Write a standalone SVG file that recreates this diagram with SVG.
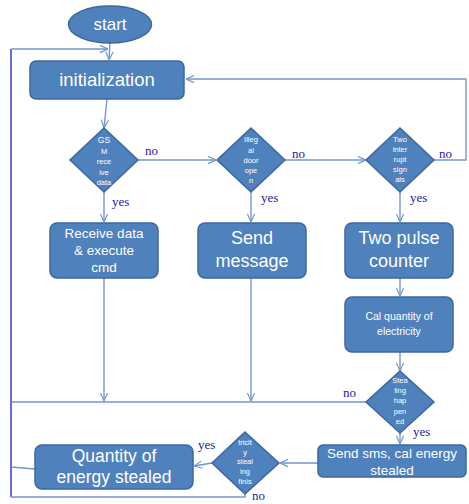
<svg xmlns="http://www.w3.org/2000/svg" width="469" height="504" viewBox="0 0 469 504">
<defs>
<marker id="arr" viewBox="0 0 10 10" refX="10" refY="5" markerWidth="9" markerHeight="9" markerUnits="userSpaceOnUse" orient="auto">
<polyline points="1,1 10,5 1,9" fill="none" stroke="#7297cf" stroke-width="1.3"/>
</marker>
<style>
.n{fill:#4f81bd;stroke:#3b679f;stroke-width:1.5}
.t{fill:#fff;font-family:"Liberation Sans",Arial,sans-serif;text-anchor:middle}
.d{font-size:7.5px}
.c{fill:none;stroke:#7297cf;stroke-width:1.4}
.l{fill:#1c1ca0;font-family:"Liberation Serif","Times New Roman",serif;font-size:13px}
</style>
</defs>
<rect width="469" height="504" fill="#fff"/>
<g id="connectors">
<path class="c" d="M110,43 L109,60" marker-end="url(#arr)"/>
<path d="M11,497 V49" fill="none" stroke="#3a3ac4" stroke-width="1.5"/>
<path class="c" d="M11,49 H108" marker-end="url(#arr)"/>
<path class="c" d="M107,99 L104,128" marker-end="url(#arr)"/>
<path class="c" d="M138,160 H216" marker-end="url(#arr)"/>
<path class="c" d="M285,160 H366" marker-end="url(#arr)"/>
<path class="c" d="M434,160 H466 V79 H186" marker-end="url(#arr)"/>
<path class="c" d="M104,192 V222" marker-end="url(#arr)"/>
<path class="c" d="M251,192 V222" marker-end="url(#arr)"/>
<path class="c" d="M400,192 V222" marker-end="url(#arr)"/>
<path class="c" d="M104,278 V401" marker-end="url(#arr)"/>
<path class="c" d="M251,278 V401" marker-end="url(#arr)"/>
<path class="c" d="M400,278 V296" marker-end="url(#arr)"/>
<path class="c" d="M400,352 V371" marker-end="url(#arr)"/>
<path class="c" d="M366,402 H11"/>
<path class="c" d="M400,432 V444" marker-end="url(#arr)"/>
<path class="c" d="M318,463 H280" marker-end="url(#arr)"/>
<path class="c" d="M212,463 L194,466" marker-end="url(#arr)"/>
<path class="c" d="M35,469 L11,467"/>
<path class="c" d="M245,493 V497 H11"/>
</g>
<g id="start">
<ellipse class="n" cx="110" cy="24.5" rx="41.5" ry="18.5"/>
<text class="t" x="110" y="30" font-size="17">start</text>
</g>
<g id="init">
<rect class="n" x="30" y="61" width="154" height="38" rx="6"/>
<text class="t" x="107" y="86" font-size="18.5">initialization</text>
</g>
<g id="d1">
<polygon class="n" points="104,128 138,160 104,192 70,160"/>
<text class="t" x="104" y="143" font-size="8.5">GS</text>
<text class="t d" x="104" y="153.5">M</text>
<text class="t d" x="104" y="164">rece</text>
<text class="t d" x="104" y="174.5">ive</text>
<text class="t d" x="104" y="185">data</text>
</g>
<g id="d2">
<polygon class="n" points="251,128 285,160 251,192 217,160"/>
<text class="t d" x="251" y="142">Illeg</text>
<text class="t d" x="251" y="152.5">al</text>
<text class="t d" x="251" y="162.5">door</text>
<text class="t d" x="251" y="172.5">ope</text>
<text class="t d" x="251" y="183">n</text>
</g>
<g id="d3">
<polygon class="n" points="400,128 434,160 400,192 366,160"/>
<text class="t d" x="400" y="142">Two</text>
<text class="t d" x="400" y="152">inter</text>
<text class="t d" x="400" y="162">rupt</text>
<text class="t d" x="400" y="172">sign</text>
<text class="t d" x="400" y="182">als</text>
</g>
<g id="receive">
<rect class="n" x="50" y="223" width="108" height="55" rx="7"/>
<text class="t" x="104" y="238" font-size="13.5">Receive data</text>
<text class="t" x="104" y="255" font-size="13.5">&amp; execute</text>
<text class="t" x="104" y="272" font-size="13.5">cmd</text>
</g>
<g id="send">
<rect class="n" x="198" y="223" width="108" height="55" rx="7"/>
<text class="t" x="252" y="244" font-size="18">Send</text>
<text class="t" x="252" y="267" font-size="18">message</text>
</g>
<g id="pulse">
<rect class="n" x="345" y="223" width="108" height="55" rx="7"/>
<text class="t" x="399" y="244" font-size="18">Two pulse</text>
<text class="t" x="399" y="267" font-size="18">counter</text>
</g>
<g id="cal">
<rect class="n" x="345" y="297" width="108" height="55" rx="7"/>
<text class="t" x="399" y="320" font-size="10.5">Cal quantity of</text>
<text class="t" x="399" y="335" font-size="10.5">electricity</text>
</g>
<g id="d4">
<polygon class="n" points="400,371 434,402 400,433 366,402"/>
<text class="t d" x="400" y="383">Stea</text>
<text class="t d" x="400" y="393">ling</text>
<text class="t d" x="400" y="403">hap</text>
<text class="t d" x="400" y="413.5">pen</text>
<text class="t d" x="400" y="424">ed</text>
</g>
<g id="sms">
<rect class="n" x="318" y="445" width="148" height="32" rx="5"/>
<text class="t" x="392" y="458" font-size="13.5">Send sms, cal energy</text>
<text class="t" x="392" y="475" font-size="13.5">stealed</text>
</g>
<g id="d5">
<polygon class="n" points="245,432 279,463 245,494 212,463"/>
<text class="t d" x="245" y="445">tricit</text>
<text class="t d" x="245" y="455">y</text>
<text class="t d" x="245" y="464">steal</text>
<text class="t d" x="245" y="474">ing</text>
<text class="t d" x="245" y="484">finis</text>
</g>
<g id="quantity">
<rect class="n" x="35" y="445" width="158" height="44" rx="7"/>
<text class="t" x="114" y="462" font-size="17.5">Quantity of</text>
<text class="t" x="114" y="483" font-size="17.5">energy stealed</text>
</g>
<g id="labels">
<text class="l" x="145" y="155">no</text>
<text class="l" x="112" y="206">yes</text>
<text class="l" x="292" y="158">no</text>
<text class="l" x="261" y="202">yes</text>
<text class="l" x="439" y="158">no</text>
<text class="l" x="410" y="202">yes</text>
<text class="l" x="343" y="397">no</text>
<text class="l" x="413" y="436">yes</text>
<text class="l" x="198" y="449">yes</text>
<text class="l" x="252" y="500" font-size="12">no</text>
</g>
</svg>
